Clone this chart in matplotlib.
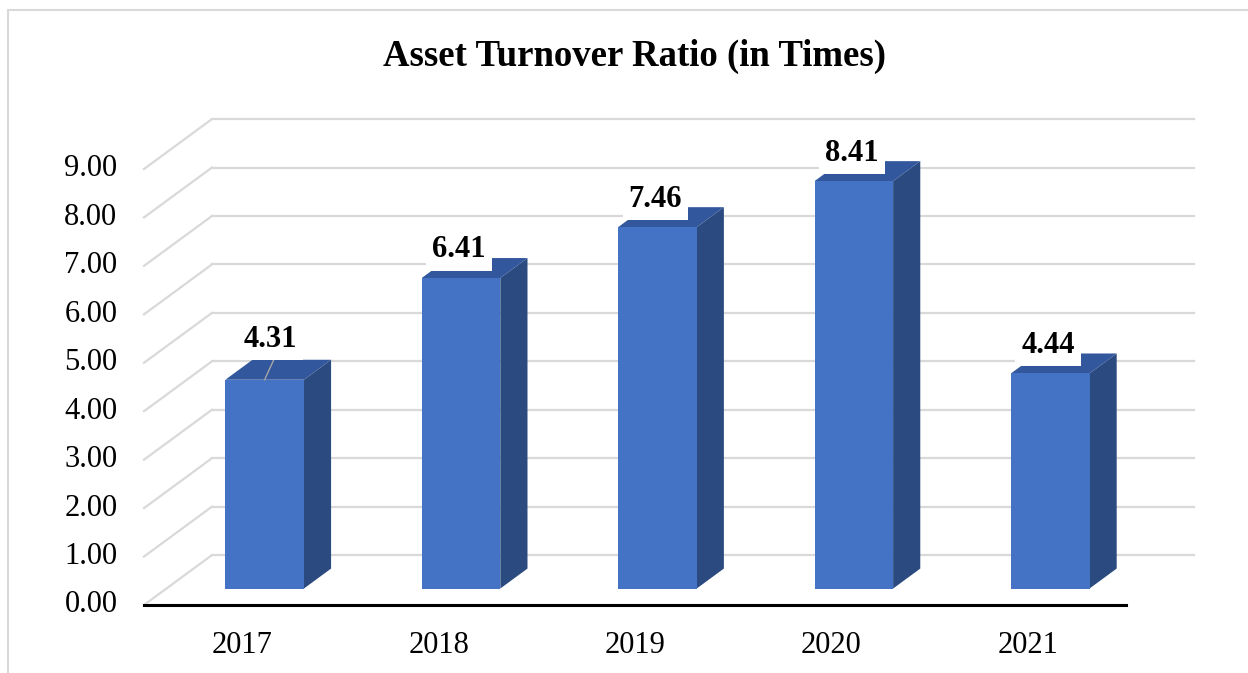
import matplotlib.pyplot as plt
from matplotlib.patches import Polygon, Rectangle

# chart data
years = ['2017', '2018', '2019', '2020', '2021']
ratios = [4.31, 6.41, 7.46, 8.41, 4.44]
y_ticks = [0, 1, 2, 3, 4, 5, 6, 7, 8, 9]

# fake 3D (oblique) geometry, in data units
DEPTH_X = 0.346     # floor depth, horizontal part
DEPTH_Y = 1.03      # floor depth, vertical part
BAR_FRONT = 0.33    # bars start at this fraction of the depth
BAR_BACK = 0.73     # ... and end here
BAR_W = 0.40

FRONT = '#4472C4'
SIDE = '#2B4A7F'
TOP = '#32579C'
GRID = '#D9D9D9'

plt.rcParams['font.family'] = ['Liberation Serif', 'DejaVu Serif']

W, H = 1248, 673
fig = plt.figure(figsize=(W / 100, H / 100), dpi=100)

# light chart border (right/bottom edges run off the picture)
fig.patches.append(Rectangle((8 / W, -0.1), 1.2, 1 - 10 / H + 0.1,
                             transform=fig.transFigure, fill=False,
                             edgecolor=GRID, linewidth=1.5))

ax = fig.add_axes([144 / W, (H - 605) / H, 982 / W, 436 / H])
ax.set_xlim(-0.5, len(years) - 0.5)
ax.set_ylim(0, 9)
ax.axis('off')

x_left = -0.5
x_right = len(years) - 0.5

# gridlines on the back wall and the left wall
for v in y_ticks:
    ax.plot([x_left + DEPTH_X, x_right + DEPTH_X], [v + DEPTH_Y, v + DEPTH_Y],
            color=GRID, lw=1.6, clip_on=False, zorder=1)
    ax.plot([x_left, x_left + DEPTH_X], [v, v + DEPTH_Y],
            color=GRID, lw=1.6, clip_on=False, zorder=1)
    ax.text(x_left - 0.135, v, f'{v:.2f}', ha='right', va='center',
            fontsize=22, clip_on=False)

# bars
ddx = (BAR_BACK - BAR_FRONT) * DEPTH_X
ddy = (BAR_BACK - BAR_FRONT) * DEPTH_Y
for i, (year, v) in enumerate(zip(years, ratios)):
    cx = i + BAR_FRONT * DEPTH_X
    x0, x1 = cx - BAR_W / 2, cx + BAR_W / 2
    b = BAR_FRONT * DEPTH_Y
    t = b + v
    front = [(x0, b), (x1, b), (x1, t), (x0, t)]
    side = [(x1, b), (x1 + ddx, b + ddy), (x1 + ddx, t + ddy), (x1, t)]
    top = [(x0, t), (x1, t), (x1 + ddx, t + ddy), (x0 + ddx, t + ddy)]
    ax.add_patch(Polygon(side, closed=True, facecolor=SIDE, edgecolor='none',
                         clip_on=False, zorder=3))
    ax.add_patch(Polygon(top, closed=True, facecolor=TOP, edgecolor='none',
                         clip_on=False, zorder=3))
    ax.add_patch(Polygon(front, closed=True, facecolor=FRONT, edgecolor='none',
                         clip_on=False, zorder=4))

    # value label; the first one was dragged up, so it has a leader line
    lx, ly = cx - 0.01, t + 0.58
    if i == 0:
        lx, ly = cx + 0.03, t + 0.83
        ax.plot([cx, cx + 0.045], [t, t + 0.4], color='#A6A6A6', lw=1,
                clip_on=False, zorder=5)
    ax.text(lx, ly, f'{v:.2f}', ha='center', va='center', fontsize=22,
            fontweight='bold', zorder=6, clip_on=False,
            bbox=dict(boxstyle='square,pad=0.2', facecolor='white',
                      edgecolor='none'))

    ax.text(i, -0.83, year, ha='center', va='center', fontsize=22,
            clip_on=False)

# category axis line
ax.plot([x_left, x_right], [0, 0], color='black', lw=2.2, clip_on=False,
        zorder=7)

fig.text(634.5 / W, 1 - 56 / H, 'Asset Turnover Ratio (in Times)',
         ha='center', va='center', fontsize=26.5, fontweight='bold')

fig.savefig('out.png', dpi=100, facecolor='white')
